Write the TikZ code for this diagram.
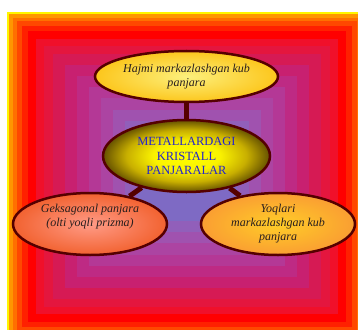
\documentclass[tikz,border=0pt]{standalone}
\usepackage{fontspec}
\setmainfont{Liberation Serif}
\usetikzlibrary{shapes.geometric}
\pgfdeclarelayer{back}
\pgfdeclarelayer{links}
\pgfsetlayers{back,links,main}
\definecolor{rim}{RGB}{85,0,0}
\definecolor{bluetext}{RGB}{35,35,205}
\definecolor{leaftext}{RGB}{40,30,30}
\pgfdeclareradialshading{topfill}{\pgfpoint{0bp}{0bp}}{color(0bp)=(rgb,255:red,252;green,240;blue,125); color(25bp)=(rgb,255:red,252;green,198;blue,28); color(50bp)=(rgb,255:red,252;green,198;blue,28)}
\pgfdeclareradialshading{hubfill}{\pgfpoint{0bp}{0bp}}{color(0bp)=(rgb,255:red,255;green,255;blue,0); color(10bp)=(rgb,255:red,250;green,242;blue,0); color(18bp)=(rgb,255:red,200;green,175;blue,0); color(25bp)=(rgb,255:red,100;green,80;blue,0); color(50bp)=(rgb,255:red,100;green,80;blue,0)}
\pgfdeclareradialshading{leftfill}{\pgfpoint{0bp}{0bp}}{color(0bp)=(rgb,255:red,255;green,155;blue,135); color(25bp)=(rgb,255:red,242;green,98;blue,48); color(50bp)=(rgb,255:red,242;green,98;blue,48)}
\pgfdeclareradialshading{rightfill}{\pgfpoint{0bp}{0bp}}{color(0bp)=(rgb,255:red,255;green,205;blue,40); color(25bp)=(rgb,255:red,250;green,158;blue,50); color(50bp)=(rgb,255:red,250;green,158;blue,50)}
\tikzstyle{oval}=[shape=ellipse, draw=rim, line width=2.5pt, inner sep=0, align=center, font=\fontsize{12.5}{14.5}\selectfont]
\tikzstyle{leaf}=[oval, text=leaftext, font=\fontsize{12}{14}\selectfont\itshape]
\tikzstyle{link}=[draw=rim, line width=5pt]

\begin{document}
\begin{tikzpicture}[x=1pt, y=-1pt]
\useasboundingbox (0,0) rectangle (358,329);
\begin{pgfonlayer}{back}
\clip (0,0) rectangle (358,329);
\foreach \d/\r/\g/\b in {0/255/245/0, 2/255/150/0, 6/255/112/0, 10/255/72/0, 15/255/32/0, 21/255/0/0, 29/240/16/42, 37/228/22/62, 46/214/26/84, 58/200/32/112, 70/190/42/132, 82/180/56/150, 94/172/68/162, 106/160/82/175, 118/145/95/186, 130/126/106/196}{
  \definecolor{band}{RGB}{\r,\g,\b}
  \fill[band] ({7+\d},{12+0.92*\d}) rectangle ({367-\d},{341-0.92*\d});
}
\end{pgfonlayer}
\node at (186.5,76.5)[leaf, shading=topfill, minimum width=183pt, minimum height=51pt](hajmi){Hajmi markazlashgan kub\\panjara};
\node at (186.5,156)[oval, text=bluetext, shading=hubfill, minimum width=167pt, minimum height=72pt](hub){METALLARDAGI\\KRISTALL\\PANJARALAR};
\node at (90,224)[leaf, shading=leftfill, minimum width=154pt, minimum height=62pt](geks){Geksagonal panjara\\(olti yoqli prizma)\\[4pt]};
\node at (278,224)[leaf, shading=rightfill, minimum width=154pt, minimum height=62pt](yoqlari){Yoqlari\\markazlashgan kub\\panjara};
\begin{pgfonlayer}{links}
\draw[link] (hub)--(hajmi);
\draw[link] (hub)--(geks);
\draw[link] (hub)--(yoqlari);
\end{pgfonlayer}
\end{tikzpicture}
\end{document}
